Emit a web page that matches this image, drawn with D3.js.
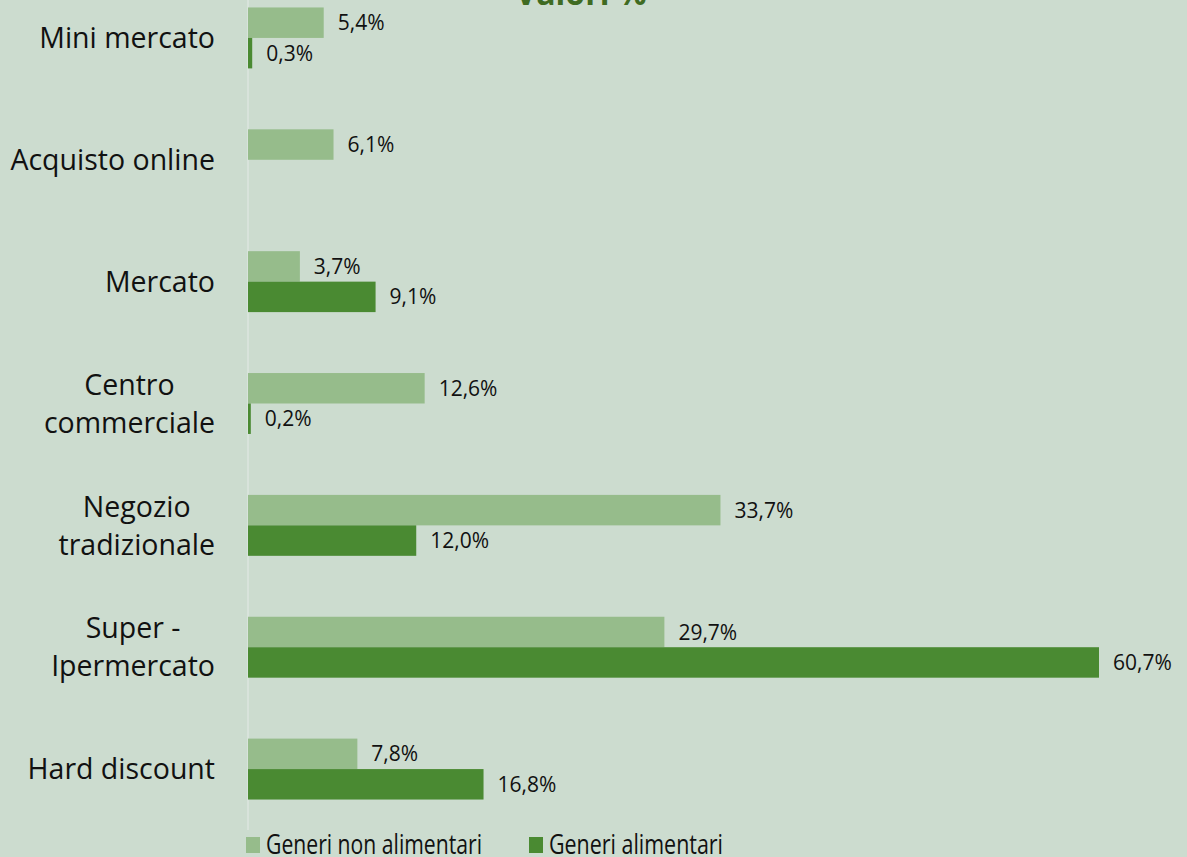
<!DOCTYPE html>
<html>
<head>
<meta charset="utf-8">
<script src="https://cdn.jsdelivr.net/npm/d3@7"></script>
<style>
  body { margin: 0; background: #ccdccf; overflow: hidden; }
  text { font-family: "Open Sans", sans-serif; }
</style>
</head>
<body>
<div id="chart"></div>
<script>
var categories = ['Mini mercato', 'Acquisto online', 'Mercato', 'Centro\ncommerciale', 'Negozio\ntradizionale', 'Super -\nIpermercato', 'Hard discount']
var nonAlimentari = [5.4, 6.1, 3.7, 12.6, 33.7, 29.7, 7.8]
var alimentari = [0.3, null, 9.1, 0.2, 12.0, 60.7, 16.8]
var seriesNames = ['Generi non alimentari', 'Generi alimentari']
var colors = ['#96bc8b', '#4a8a32']

var w = 1187, h = 857

var svg = d3.select('#chart').append('svg').attr('width', w).attr('height', h)
svg.append('rect').attr('width', w).attr('height', h).attr('fill', '#ccdccf')

var x = d3.scaleLinear().domain([0, 60.7]).range([248, 1099])
var y = d3.scaleBand().domain(categories).range([-23, 830]).paddingInner(0.5).paddingOuter(0.25)
var sub = d3.scaleBand().domain([0, 1]).range([0, y.bandwidth()])

// title (cut off at the top, like the original)
svg.append('text').attr('x', 581).attr('y', 5).attr('text-anchor', 'middle')
  .attr('font-size', 32).attr('font-weight', 'bold').attr('fill', '#3f6b22').text('Valori %')

// axis line
svg.append('line').attr('x1', x(0)).attr('x2', x(0)).attr('y1', 0).attr('y2', 830)
  .attr('stroke', '#dde6df').attr('stroke-width', 1.5)

var rows = categories.map(function (c, i) { return { cat: c, vals: [nonAlimentari[i], alimentari[i]] } })

var g = svg.selectAll('g.cat').data(rows).enter().append('g').attr('class', 'cat')
  .attr('transform', function (d) { return 'translate(0,' + y(d.cat) + ')' })

g.each(function (d) {
  var gg = d3.select(this)
  d.vals.forEach(function (v, k) {
    if (v == null) return
    gg.append('rect').attr('x', x(0)).attr('y', sub(k)).attr('width', x(v) - x(0)).attr('height', sub.bandwidth())
      .attr('fill', colors[k])
    gg.append('text').attr('x', x(v) + 14).attr('y', sub(k) + sub.bandwidth() / 2).attr('dy', '0.36em')
      .attr('font-size', 21).attr('fill', '#111').text(v.toFixed(1).replace('.', ',') + '%')
  })
})

// category labels
var right = 215
g.each(function (d) {
  var lines = d.cat.split('\n')
  var gg = d3.select(this)
  var lh = 38
  var mid = y.bandwidth() / 2
  var t = gg.selectAll('text.lab').data(lines).enter().append('text').attr('class', 'lab')
    .attr('y', function (l, i) { return mid + (i - (lines.length - 1) / 2) * lh })
    .attr('dy', '0.36em').attr('font-size', 28.5).attr('fill', '#111').text(function (l) { return l })
  var maxw = 0
  t.each(function () { maxw = Math.max(maxw, this.getComputedTextLength()) })
  t.attr('text-anchor', 'middle').attr('x', right - maxw / 2)
})

// legend (narrow face like the original)
var legX = [246, 529]
var legLen = [216, 174]
seriesNames.forEach(function (s, i) {
  svg.append('rect').attr('x', legX[i]).attr('y', 837).attr('width', 14).attr('height', 16).attr('fill', colors[i])
  svg.append('text').attr('x', legX[i] + 20).attr('y', 854).attr('font-size', 28).attr('fill', '#111')
    .attr('textLength', legLen[i]).attr('lengthAdjust', 'spacingAndGlyphs').text(s)
})
</script>
</body>
</html>
